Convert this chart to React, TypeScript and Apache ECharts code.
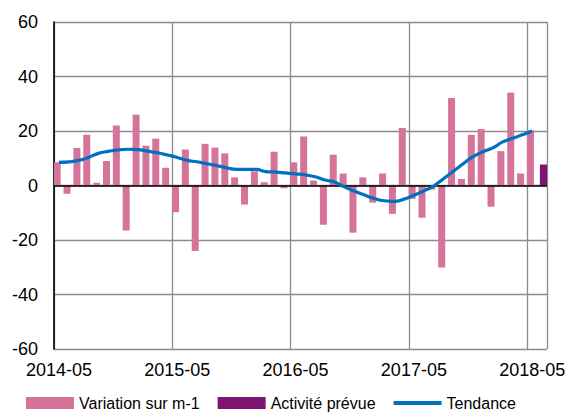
import React, { useEffect, useRef } from "react";
import * as echarts from "echarts";

const months: string[] = [
  "2014-05","2014-06","2014-07","2014-08","2014-09","2014-10","2014-11","2014-12",
  "2015-01","2015-02","2015-03","2015-04","2015-05","2015-06","2015-07","2015-08",
  "2015-09","2015-10","2015-11","2015-12","2016-01","2016-02","2016-03","2016-04",
  "2016-05","2016-06","2016-07","2016-08","2016-09","2016-10","2016-11","2016-12",
  "2017-01","2017-02","2017-03","2017-04","2017-05","2017-06","2017-07","2017-08",
  "2017-09","2017-10","2017-11","2017-12","2018-01","2018-02","2018-03","2018-04",
  "2018-05","2018-06",
];

// Variation sur m-1 (2014-05 .. 2018-05)
const variation: number[] = [
  8.5, -3, 13.8, 18.6, 1, 9, 22, -16.5, 26, 14.6, 17.2, 6.5,
  -9.8, 13.2, -24, 15.3, 13.9, 11.8, 3, -7, 5.2, 1.2, 12.4, -1,
  8.5, 18, 1.8, -14.4, 11.3, 4.4, -17.3, 3, -6.3, 4.4, -10.4, 21.1,
  -4.9, -11.8, -1.5, -30.1, 32.1, 2.4, 18.6, 20.7, -7.8, 12.6, 34.1, 4.4,
  20.2,
];

// Activité prévue (2018-06)
const prevue: number[] = [7.7];

// Tendance (2014-05 .. 2018-05)
const tendance: number[] = [
  8.5, 8.7, 9.2, 10.3, 11.8, 12.5, 13.1, 13.3, 13.2, 12.6, 12.0, 11.2,
  10.3, 9.2, 8.7, 8.0, 7.3, 6.5, 5.9, 5.9, 5.9, 5.1, 4.9, 4.6,
  4.3, 3.9, 3.2, 2.0, 1.2, -0.6, -2.1, -3.5, -4.8, -5.6, -5.8, -5.0,
  -3.6, -2.0, -0.2, 2.5, 5.2, 8.0, 10.6, 12.4, 13.8, 16.0, 17.3, 18.6,
  20.0,
];

const FONT = "'Liberation Sans', Arial, sans-serif";

export default function App() {
  const ref = useRef<HTMLDivElement>(null);
  useEffect(() => {
    if (!ref.current) return;
    const chart = echarts.init(ref.current, undefined, { renderer: "svg" });
    const pinkData = months.map((_, i) => (i < variation.length ? variation[i] : null));
    const purpleData = months.map((_, i) =>
      i >= variation.length ? prevue[i - variation.length] ?? null : null
    );
    const lineData = months.map((_, i) => (i < tendance.length ? tendance[i] : null));
    chart.setOption({
      animation: false,
      textStyle: { fontFamily: FONT },
      grid: { left: 54, top: 22, right: 24, bottom: 63, containLabel: false },
      legend: {
        left: 26,
        top: 395,
        padding: 0,
        itemWidth: 48,
        itemHeight: 12,
        itemGap: 18,
        symbolKeepAspect: true,
        textStyle: { fontSize: 16, color: "#000", fontFamily: FONT },
        data: [
          { name: "Variation sur m-1", icon: "rect" },
          { name: "Activité prévue", icon: "rect" },
          {
            name: "Tendance",
            icon: "path://M0,0 L48,0 L48,4 L0,4 Z",
            itemStyle: { color: "#0070C0" },
          },
        ],
      },
      xAxis: {
        type: "category",
        data: months,
        boundaryGap: true,
        axisLine: { show: false },
        axisTick: { show: false },
        axisLabel: {
          interval: 11,
          fontSize: 18,
          color: "#000",
          margin: 12,
          fontFamily: FONT,
        },
        splitLine: {
          show: true,
          interval: 11,
          lineStyle: { color: "#8c8c8c", width: 1.3 },
        },
      },
      yAxis: {
        type: "value",
        min: -60,
        max: 60,
        interval: 20,
        axisLine: { show: true, lineStyle: { color: "#000", width: 1.6 } },
        axisTick: { show: false },
        axisLabel: { fontSize: 18, color: "#000", margin: 16, fontFamily: FONT },
        splitLine: { show: true, lineStyle: { color: "#8c8c8c", width: 1.3 } },
      },
      series: [
        {
          name: "Variation sur m-1",
          type: "bar",
          data: pinkData,
          barWidth: 7,
          barGap: "-57%",
          itemStyle: { color: "#D5739B" },
          markLine: {
            silent: true,
            symbol: "none",
            label: { show: false },
            lineStyle: { color: "#000", width: 1.6, type: "solid" },
            data: [{ yAxis: 0 }],
          },
        },
        {
          name: "Activité prévue",
          type: "bar",
          data: purpleData,
          barWidth: 7.5,
          itemStyle: { color: "#7E1472" },
        },
        {
          name: "Tendance",
          type: "line",
          data: lineData,
          smooth: true,
          symbol: "none",
          showSymbol: false,
          lineStyle: { color: "#0070C0", width: 3.2 },
          itemStyle: { color: "#0070C0" },
          z: 5,
        },
      ],
    });
    return () => chart.dispose();
  }, []);
  return (
    <div
      ref={ref}
      style={{ position: "fixed", left: 0, top: 0, width: 571, height: 412, background: "#fff" }}
    />
  );
}
